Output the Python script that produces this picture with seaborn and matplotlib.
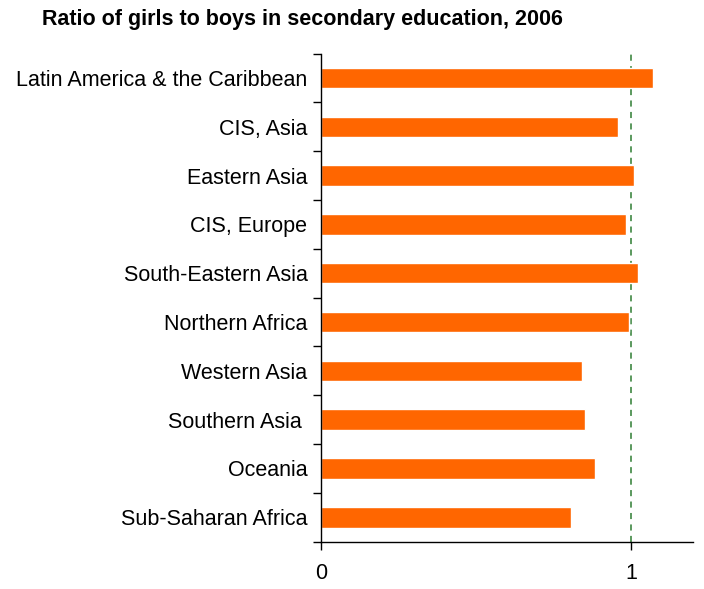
import matplotlib
matplotlib.use("Agg")
import matplotlib.pyplot as plt
import seaborn as sns
import pandas as pd
import numpy as np

regions = ["Latin America & the Caribbean", "CIS, Asia", "Eastern Asia", "CIS, Europe",
           "South-Eastern Asia", "Northern Africa", "Western Asia", "Southern Asia ",
           "Oceania", "Sub-Saharan Africa"]
ratios = [1.073, 0.957, 1.009, 0.986, 1.022, 0.993, 0.841, 0.851, 0.883, 0.806]
x_ticks = [0, 1]
x_tick_labels = ["0", "1"]
title = "Ratio of girls to boys in secondary education, 2006"

sns.set_theme(style="white")
plt.rcParams["font.family"] = ["Liberation Sans", "DejaVu Sans"]
plt.rcParams["text.color"] = "black"
plt.rcParams["xtick.color"] = "black"
plt.rcParams["ytick.color"] = "black"

df = pd.DataFrame({"region": regions, "ratio": ratios})

fig = plt.figure(figsize=(7.04, 5.89), dpi=100)
ax = fig.add_axes([0.4564, 0.0803, 0.984 - 0.4564, 0.909 - 0.0803])

sns.barplot(data=df, x="ratio", y="region", orient="h", color="#FF6600",
            saturation=1, width=0.42, ax=ax)

ax.axvline(1, color="#2E7D32", linestyle=(0, (4, 3.5)), linewidth=1.1, zorder=0)

ax.set_xlim(0, 1.2)
ax.set_ylim(len(regions) - 0.5, -0.5)
ax.set_xlabel("")
ax.set_ylabel("")

for s in ["top", "right"]:
    ax.spines[s].set_visible(False)
for s in ["left", "bottom"]:
    ax.spines[s].set_color("black")
    ax.spines[s].set_linewidth(1.0)

ax.set_xticks(x_ticks)
ax.set_xticklabels(x_tick_labels, fontsize=15.5, color="black")
ax.tick_params(axis="x", direction="out", length=6, width=1, color="black", pad=9,
               bottom=True)

ax.set_yticks(range(len(regions)))
ax.set_yticklabels(regions, fontsize=15.5, color="black")
ax.tick_params(axis="y", which="major", length=0, pad=10)
ax.set_yticks(np.arange(-0.5, len(regions), 1.0), minor=True)
ax.tick_params(axis="y", which="minor", direction="out", length=6, width=1, color="black", left=True)

fig.text(42 / 704, 1 - 19 / 589, title, fontsize=15.5, fontweight="bold", ha="left",
         va="center", color="black")

fig.savefig("out.png", dpi=100)
